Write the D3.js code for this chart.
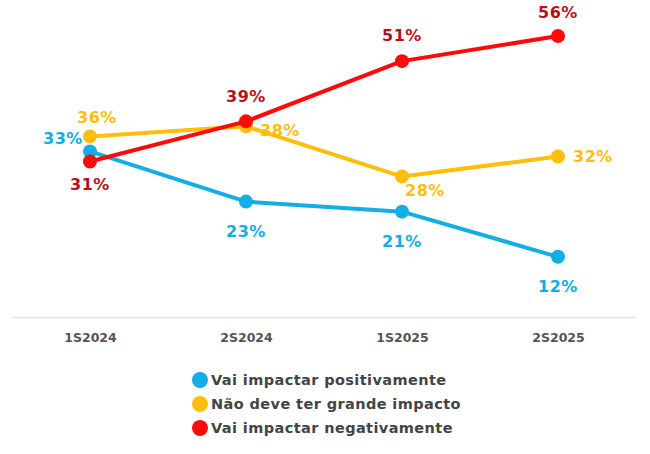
<!DOCTYPE html>
<html>
<head>
<meta charset="utf-8">
<script src="https://cdn.jsdelivr.net/npm/d3@7"></script>
<style>
  body { margin: 0; background: #fff; }
  text { font-family: "DejaVu Sans", sans-serif; font-weight: bold; }
</style>
</head>
<body>
<div id="wrapper"></div>
<script>
// Data
const periods = ["1S2024", "2S2024", "1S2025", "2S2025"];
const positivo = [33, 23, 21, 12];
const neutro = [36, 38, 28, 32];
const negativo = [31, 39, 51, 56];
const seriesNames = [
  "Vai impactar positivamente",
  "Não deve ter grande impacto",
  "Vai impactar negativamente",
];

// label placement per point: [dx, dy]
const series = [
  {
    name: seriesNames[0], values: positivo, color: "#14ADE6", labelColor: "#14ADE6",
    labels: [[-27, -13], [0, 30], [0, 30], [0, 30]],
  },
  {
    name: seriesNames[1], values: neutro, color: "#FFBE0B", labelColor: "#FFBE0B",
    labels: [[7, -19], [34, 4], [23, 14], [35, 0]],
  },
  {
    name: seriesNames[2], values: negativo, color: "#FF0A0A", labelColor: "#B5121B",
    labels: [[0, 23], [0, -25], [0, -26], [0, -24]],
  },
];

const dimensions = {
  width: 650,
  height: 454,
  margin: { top: 16, right: 14, bottom: 137, left: 12 },
};
dimensions.boundedWidth = dimensions.width - dimensions.margin.left - dimensions.margin.right;
dimensions.boundedHeight = dimensions.height - dimensions.margin.top - dimensions.margin.bottom;

const wrapper = d3.select("#wrapper")
  .append("svg")
  .attr("width", dimensions.width)
  .attr("height", dimensions.height);

const bounds = wrapper.append("g")
  .attr("transform", `translate(${dimensions.margin.left},${dimensions.margin.top})`);

const xScale = d3.scalePoint()
  .domain(periods)
  .range([0, dimensions.boundedWidth])
  .padding(0.5);

const yScale = d3.scaleLinear()
  .domain([0, 60])
  .range([dimensions.boundedHeight, 0]);

// x axis
const xAxis = bounds.append("g")
  .attr("transform", `translate(0,${dimensions.boundedHeight})`)
  .call(d3.axisBottom(xScale).tickSize(0).tickPadding(16));
xAxis.select(".domain").attr("stroke", "#e3e3e3").attr("stroke-width", 1.5);
xAxis.selectAll("text")
  .attr("fill", "#555")
  .style("font-size", "12.5px")
  .style("font-family", "DejaVu Sans, sans-serif")
  .style("font-weight", "bold");

const lineGen = d3.line()
  .x((d, i) => xScale(periods[i]))
  .y(d => yScale(d));

// lines (draw order: blue, yellow, red on top)
series.forEach(s => {
  bounds.append("path")
    .datum(s.values)
    .attr("fill", "none")
    .attr("stroke", s.color)
    .attr("stroke-width", 4)
    .attr("stroke-linejoin", "round")
    .attr("d", lineGen);
  bounds.selectAll(null)
    .data(s.values)
    .join("circle")
    .attr("cx", (d, i) => xScale(periods[i]))
    .attr("cy", d => yScale(d))
    .attr("r", 7)
    .attr("fill", s.color);
});

series.forEach(s => {
  bounds.selectAll(null)
    .data(s.values)
    .join("text")
    .attr("x", (d, i) => xScale(periods[i]) + s.labels[i][0])
    .attr("y", (d, i) => yScale(d) + s.labels[i][1])
    .attr("dy", "0.35em")
    .attr("text-anchor", "middle")
    .attr("fill", s.labelColor)
    .style("font-size", "16px")
    .style("letter-spacing", "0.5px")
    .text(d => d + "%");
});

// legend
const legend = wrapper.append("g").attr("transform", "translate(200,380)");
series.forEach((s, i) => {
  const g = legend.append("g").attr("transform", `translate(0,${i * 24})`);
  g.append("circle").attr("r", 8).attr("fill", s.color);
  g.append("text")
    .attr("x", 11)
    .attr("dy", "0.35em")
    .attr("fill", "#444")
    .style("font-size", "14.5px")
    .style("letter-spacing", "0.4px")
    .text(s.name);
});
</script>
</body>
</html>
